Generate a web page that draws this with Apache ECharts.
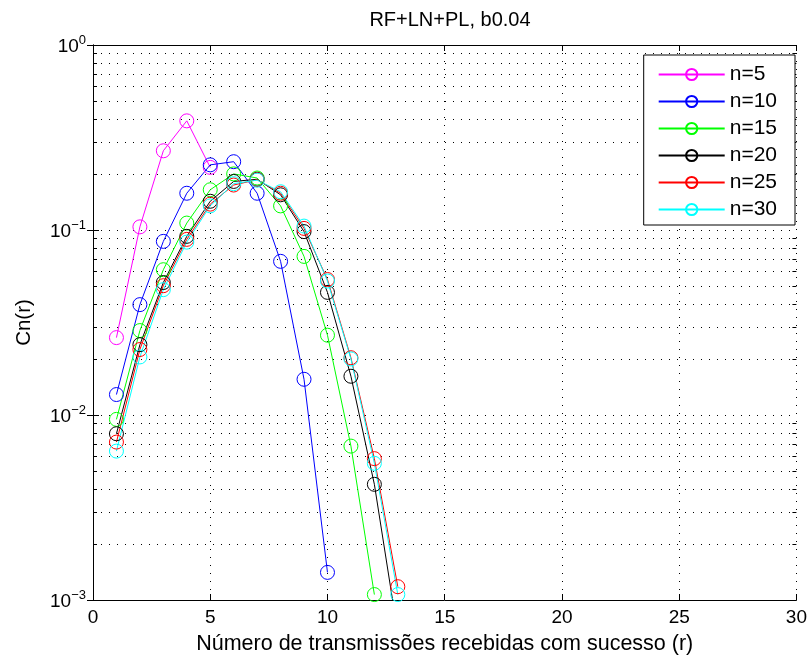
<!DOCTYPE html>
<html>
<head>
<meta charset="utf-8">
<script src="https://cdn.jsdelivr.net/npm/echarts@6/dist/echarts.min.js"></script>
<style>html,body{margin:0;padding:0;background:#fff}#c{width:810px;height:660px}</style>
</head>
<body>
<div id="c"></div>
<script>
// ---- data ----
const rValues = [1, 2, 3, 4, 5, 6, 7, 8, 9, 10, 11, 12, 13];
const n5  = [0.0262, 0.104, 0.268, 0.389, 0.218];
const n10 = [0.0129, 0.0395, 0.0868, 0.158, 0.225, 0.234, 0.158, 0.0677, 0.0156, 0.00141];
const n15 = [0.00947, 0.0286, 0.061, 0.109, 0.165, 0.201, 0.191, 0.135, 0.072, 0.027, 0.00679, 0.00107];
const n20 = [0.00792, 0.0240, 0.052, 0.0924, 0.143, 0.183, 0.188, 0.155, 0.098, 0.046, 0.0162, 0.00422, 0.00066];
const n25 = [0.00714, 0.0226, 0.050, 0.089, 0.138, 0.175, 0.187, 0.158, 0.102, 0.054, 0.0204, 0.00581, 0.00118];
const n30 = [0.00638, 0.0206, 0.0476, 0.086, 0.135, 0.178, 0.186, 0.161, 0.105, 0.053, 0.0201, 0.00548, 0.00107];
const seriesNames = ['n=5', 'n=10', 'n=15', 'n=20', 'n=25', 'n=30'];
const seriesValues = [n5, n10, n15, n20, n25, n30];
const seriesColors = ['#ff00ff', '#0000ff', '#00ff00', '#000000', '#ff0000', '#00ffff'];
const xTicks = [0, 5, 10, 15, 20, 25, 30];
const yTickExponents = [-3, -2, -1, 0];
const yMinorTicks = [];
for (let e = -3; e < 0; e++) for (let m = 2; m <= 9; m++) yMinorTicks.push(+(m * Math.pow(10, e)).toPrecision(3));
const titleText = 'RF+LN+PL, b0.04';
const xName = 'Número de transmissões recebidas com sucesso (r)';
const yName = 'Cn(r)';

const FONT = 'Liberation Sans, Arial, Helvetica, sans-serif';
const gridDot = { color: '#000', width: 1, type: [1, 7] };

const chart = echarts.init(document.getElementById('c'), null, { renderer: 'canvas' });

const lineSeries = seriesNames.map((name, i) => ({
  name: name,
  type: 'line',
  data: seriesValues[i].map((v, k) => [rValues[k], v]),
  symbol: 'circle',
  symbolSize: 14,
  color: seriesColors[i],
  lineStyle: { color: seriesColors[i], width: 1 },
  itemStyle: { color: 'rgba(0,0,0,0)', borderColor: seriesColors[i], borderWidth: 1 },
  emphasis: { disabled: true },
  clip: true,
  z: 3
}));

const minorSeries = {
  type: 'custom',
  silent: true,
  z: 1,
  data: yMinorTicks.map(v => [xTicks[0], v]),
  renderItem: function (params, api) {
    const cs = params.coordSys;
    const y = Math.round(api.coord([xTicks[0], api.value(1)])[1]) + 0.5;
    return {
      type: 'group',
      children: [
        { type: 'line', shape: { x1: cs.x, y1: y, x2: cs.x + cs.width, y2: y }, style: { stroke: '#000', lineWidth: 1, lineDash: [1, 7] } },
        { type: 'line', shape: { x1: cs.x, y1: y, x2: cs.x + 4, y2: y }, style: { stroke: '#000', lineWidth: 1 } },
        { type: 'line', shape: { x1: cs.x + cs.width - 4, y1: y, x2: cs.x + cs.width, y2: y }, style: { stroke: '#000', lineWidth: 1 } }
      ]
    };
  }
};

const yFormatter = function (v) {
  const e = Math.round(Math.log10(v));
  if (yTickExponents.indexOf(e) < 0) return '';
  return '{b|10}{s|' + (e < 0 ? '\u2212' + (-e) : String(e)) + '}';
};

chart.setOption({
  animation: false,
  backgroundColor: '#fff',
  title: {
    text: titleText,
    left: 445,
    top: 5,
    textAlign: 'center',
    textStyle: { fontFamily: FONT, fontSize: 20, fontWeight: 'normal', color: '#000' }
  },
  grid: { left: 93, right: 12, top: 45, bottom: 59, containLabel: false },
  legend: {
    data: seriesNames,
    orient: 'vertical',
    right: 15,
    top: 55,
    itemWidth: 66,
    itemHeight: 14,
    itemGap: 6,
    padding: [9, 18, 5, 14],
    backgroundColor: '#fff',
    borderColor: '#000',
    borderWidth: 1,
    borderRadius: 0,
    textStyle: { fontFamily: FONT, fontSize: 21, color: '#000' },
    z: 10
  },
  xAxis: [{
    type: 'value', min: xTicks[0], max: xTicks[xTicks.length - 1], interval: 5,
    name: xName, nameLocation: 'middle', nameGap: 33,
    nameTextStyle: { fontFamily: FONT, fontSize: 21.5, color: '#000' },
    axisLine: { show: true, lineStyle: { color: '#000', width: 1 } },
    axisTick: { show: true, inside: true, length: 6, lineStyle: { color: '#000' } },
    axisLabel: { fontFamily: FONT, fontSize: 19, color: '#000', margin: 8 },
    splitLine: { show: true, lineStyle: gridDot }
  }, {
    type: 'value', position: 'top', min: xTicks[0], max: xTicks[xTicks.length - 1], interval: 5,
    axisLine: { show: true, lineStyle: { color: '#000', width: 1 } },
    axisTick: { show: true, inside: true, length: 6, lineStyle: { color: '#000' } },
    axisLabel: { show: false },
    splitLine: { show: false }
  }],
  yAxis: [{
    type: 'log', logBase: 10, min: 0.001, max: 1,
    name: yName, nameLocation: 'middle', nameGap: 58, nameRotate: 90,
    nameTextStyle: { fontFamily: FONT, fontSize: 20.5, color: '#000' },
    axisLine: { show: true, lineStyle: { color: '#000', width: 1 } },
    axisTick: { show: true, inside: true, length: 6, lineStyle: { color: '#000' } },
    axisLabel: {
      margin: 7,
      formatter: yFormatter,
      rich: {
        b: { fontFamily: FONT, fontSize: 19, color: '#000', verticalAlign: 'bottom' },
        s: { fontFamily: FONT, fontSize: 13, color: '#000', verticalAlign: 'bottom', padding: [0, 0, 10, 0] }
      }
    },
    splitLine: { show: true, lineStyle: gridDot }
  }, {
    type: 'log', logBase: 10, min: 0.001, max: 1, position: 'right',
    axisLine: { show: true, lineStyle: { color: '#000', width: 1 } },
    axisTick: { show: true, inside: true, length: 6, lineStyle: { color: '#000' } },
    axisLabel: { show: false },
    splitLine: { show: false }
  }],
  series: [minorSeries].concat(lineSeries)
});
</script>
</body>
</html>
